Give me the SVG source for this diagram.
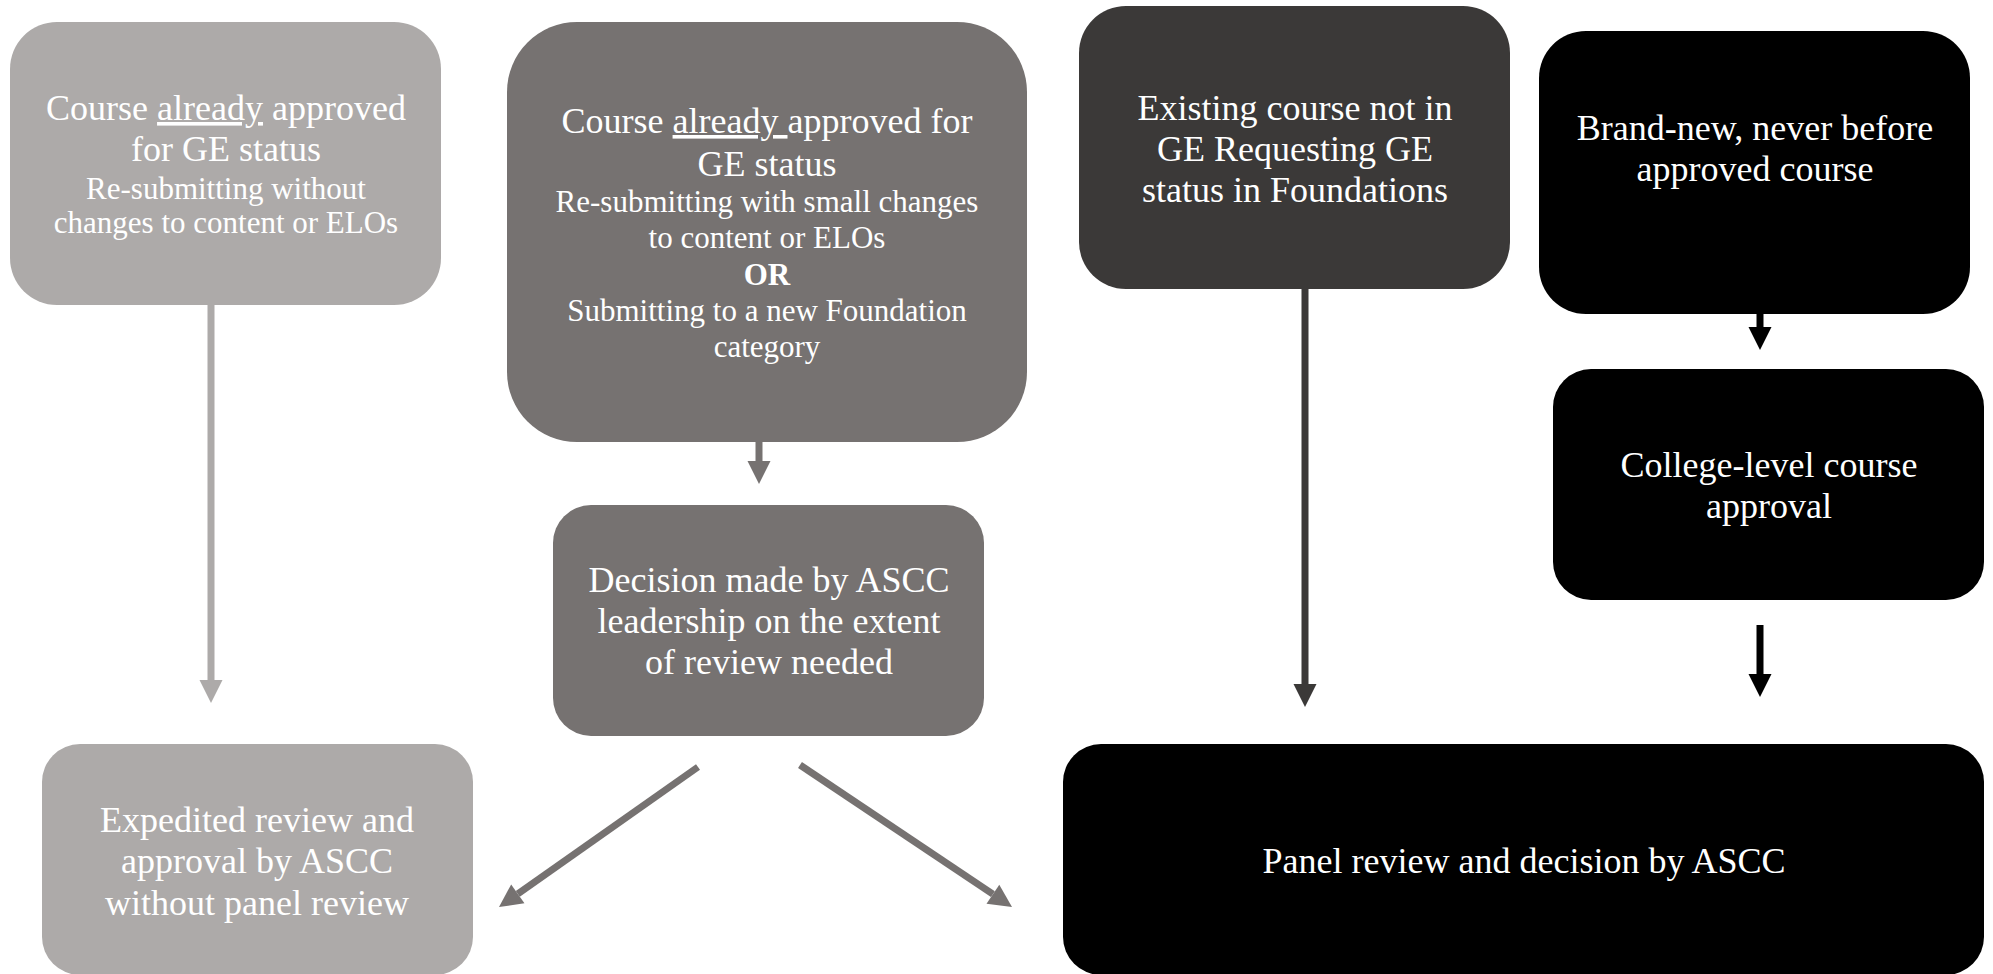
<svg xmlns="http://www.w3.org/2000/svg" width="1993" height="974" viewBox="0 0 1993 974">
<style>
text{font-family:"Liberation Serif","Times New Roman",serif;fill:#fff;text-anchor:middle}
.l{font-size:36px}
.s{font-size:31px}
.light{fill:#ADAAA9}
.mid{fill:#767271}
.dark{fill:#3B3938}
.blk{fill:#000}
.c{fill:none;stroke-width:7}
</style>
<defs>
<marker id="hL" markerUnits="userSpaceOnUse" markerWidth="24" markerHeight="24" refX="0" refY="11.5" orient="auto" overflow="visible"><path d="M0,0 L23,11.5 L0,23 z" fill="#ADAAA9"/></marker>
<marker id="hM" markerUnits="userSpaceOnUse" markerWidth="24" markerHeight="24" refX="0" refY="11.5" orient="auto" overflow="visible"><path d="M0,0 L23,11.5 L0,23 z" fill="#767271"/></marker>
<marker id="hD" markerUnits="userSpaceOnUse" markerWidth="24" markerHeight="24" refX="0" refY="11.5" orient="auto" overflow="visible"><path d="M0,0 L23,11.5 L0,23 z" fill="#3B3938"/></marker>
<marker id="hB" markerUnits="userSpaceOnUse" markerWidth="24" markerHeight="24" refX="0" refY="11.5" orient="auto" overflow="visible"><path d="M0,0 L23,11.5 L0,23 z" fill="#000"/></marker>
</defs>
<rect width="1993" height="974" fill="#fff"/>

<g id="connectors">
<line class="c" stroke="#ADAAA9" x1="211" y1="305" x2="211" y2="680" marker-end="url(#hL)"/>
<line class="c" stroke="#767271" x1="759" y1="442" x2="759" y2="461" marker-end="url(#hM)"/>
<line class="c" stroke="#3B3938" x1="1305" y1="289" x2="1305" y2="684" marker-end="url(#hD)"/>
<line class="c" stroke="#000" x1="1760" y1="313" x2="1760" y2="327" marker-end="url(#hB)"/>
<line class="c" stroke="#000" x1="1760" y1="625" x2="1760" y2="674" marker-end="url(#hB)"/>
<line class="c" stroke="#767271" x1="698" y1="767" x2="517.8" y2="893.8" marker-end="url(#hM)"/>
<line class="c" stroke="#767271" x1="800" y1="765" x2="992.9" y2="894.2" marker-end="url(#hM)"/>
</g>

<g id="n1">
<rect class="light" x="10" y="22" width="431" height="283" rx="47"/>
<text class="l" x="226" y="120">Course <tspan text-decoration="underline">already</tspan> approved</text>
<text class="l" x="226" y="161">for GE status</text>
<text class="s" x="226" y="199">Re-submitting without</text>
<text class="s" x="226" y="233">changes to content or ELOs</text>
</g>

<g id="n2">
<rect class="mid" x="507" y="22" width="520" height="420" rx="70"/>
<text class="l" x="767" y="133">Course <tspan text-decoration="underline">already </tspan>approved for</text>
<text class="l" x="767" y="176">GE status</text>
<text class="s" x="767" y="212">Re-submitting with small changes</text>
<text class="s" x="767" y="248">to content or ELOs</text>
<text class="s" x="767" y="285" font-weight="bold">OR</text>
<text class="s" x="767" y="321">Submitting to a new Foundation</text>
<text class="s" x="767" y="357">category</text>
</g>

<g id="n3">
<rect class="dark" x="1079" y="6" width="431" height="283" rx="47"/>
<text class="l" x="1295" y="120">Existing course not in</text>
<text class="l" x="1295" y="161">GE Requesting GE</text>
<text class="l" x="1295" y="202">status in Foundations</text>
</g>

<g id="n4">
<rect class="blk" x="1539" y="31" width="431" height="283" rx="47"/>
<text class="l" x="1755" y="140">Brand-new, never before</text>
<text class="l" x="1755" y="181">approved course</text>
</g>

<g id="n5">
<rect class="blk" x="1553" y="369" width="431" height="231" rx="38"/>
<text class="l" x="1769" y="477">College-level course</text>
<text class="l" x="1769" y="518">approval</text>
</g>

<g id="n6">
<rect class="mid" x="553" y="505" width="431" height="231" rx="38"/>
<text class="l" x="769" y="592">Decision made by ASCC</text>
<text class="l" x="769" y="633">leadership on the extent</text>
<text class="l" x="769" y="674">of review needed</text>
</g>

<g id="n7">
<rect class="light" x="42" y="744" width="431" height="231" rx="38"/>
<text class="l" x="257" y="832">Expedited review and</text>
<text class="l" x="257" y="873">approval by ASCC</text>
<text class="l" x="257" y="915">without panel review</text>
</g>

<g id="n8">
<rect class="blk" x="1063" y="744" width="921" height="231" rx="38"/>
<text class="l" x="1524" y="873">Panel review and decision by ASCC</text>
</g>
</svg>
